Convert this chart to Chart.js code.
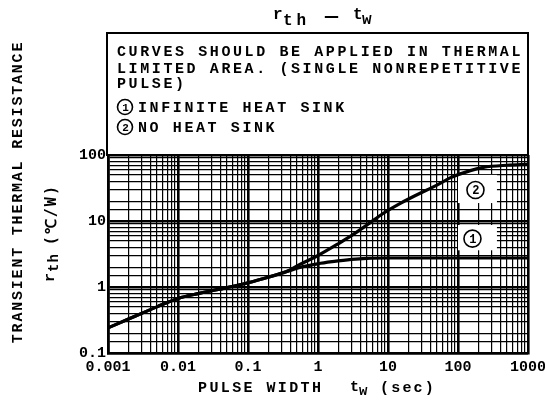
<!DOCTYPE html>
<html><head><meta charset="utf-8">
<script src="https://cdn.jsdelivr.net/npm/chart.js@4.4.0/dist/chart.umd.min.js"></script>
<style>html,body{margin:0;padding:0;background:#fff;}canvas{display:block;}</style>
</head><body>
<canvas id="c" width="545" height="403"></canvas>
<script>
// ---- data ----
const pulseWidthInfinite = [0.001, 0.002, 0.005, 0.01, 0.02, 0.05, 0.1, 0.2, 0.35, 0.55, 1, 1.6, 3, 5, 10, 30, 100, 300, 1000];
const rthInfinite        = [0.24, 0.33, 0.5, 0.67, 0.8, 0.98, 1.16, 1.42, 1.7, 1.98, 2.25, 2.42, 2.62, 2.72, 2.75, 2.75, 2.75, 2.75, 2.75];
const pulseWidthNoSink   = [0.001, 0.002, 0.005, 0.01, 0.02, 0.05, 0.1, 0.2, 0.35, 0.55, 1, 2, 3, 5, 8.5, 15, 26, 50, 77, 150, 230, 500, 1000];
const rthNoSink          = [0.24, 0.33, 0.5, 0.67, 0.8, 0.98, 1.16, 1.42, 1.7, 2.2, 3.0, 4.6, 6.0, 8.7, 13, 18.5, 25, 35, 45, 58, 65, 70, 72];
const xTickLabels = ['0.001', '0.01', '0.1', '1', '10', '100', '1000'];
const yTickLabels = ['0.1', '1', '10', '100'];
const xMinorSteps = [2, 3, 4, 5, 6, 7, 8, 9];
const yMinorSteps = [1.5, 2, 3, 4, 5, 6, 7, 8, 9];
const noteLines = ['CURVES SHOULD BE APPLIED IN THERMAL', 'LIMITED AREA. (SINGLE NONREPETITIVE', 'PULSE)'];
const legendItems = ['INFINITE HEAT SINK', 'NO HEAT SINK'];

const FAM = '"Liberation Mono", "DejaVu Sans Mono", monospace';
const xDecades = xTickLabels.map(Number);
const yDecades = yTickLabels.map(Number);

function buildTicks(decades, steps) {
  const out = [];
  decades.forEach((d, i) => {
    out.push(d);
    if (i < decades.length - 1) steps.forEach(s => out.push(d * s));
  });
  return out.map(v => ({ value: v }));
}
function labelFor(v, decades, labels) {
  const i = decades.findIndex(d => Math.abs(d - v) / d < 1e-6);
  return i >= 0 ? labels[i] : '';
}
function isDecade(v, decades) { return decades.some(d => Math.abs(d - v) / d < 1e-6); }

function txt(ctx, s, x, y, o = {}) {
  ctx.save();
  ctx.font = `${o.weight || 'bold'} ${o.size || 15}px ${o.family || FAM}`;
  ctx.letterSpacing = (o.ls || 0) + 'px';
  ctx.textAlign = o.align || 'left';
  ctx.textBaseline = o.baseline || 'alphabetic';
  ctx.fillStyle = '#000';
  ctx.fillText(s, x, y);
  const w = ctx.measureText(s).width;
  ctx.restore();
  return w;
}
function circled(ctx, n, cx, cy, r, size) {
  ctx.save();
  ctx.beginPath();
  ctx.arc(cx, cy, r, 0, Math.PI * 2);
  ctx.lineWidth = 1.6;
  ctx.strokeStyle = '#000';
  ctx.stroke();
  ctx.restore();
  txt(ctx, String(n), cx + 0.5, cy + 1, { size: size, align: 'center', baseline: 'middle' });
}

const annot = {
  id: 'annot',
  beforeDatasetsDraw(chart) {
    const { ctx, scales: { x, y } } = chart;
    const lx0 = x.getPixelForValue(100), lx1 = x.getPixelForValue(360);
    ctx.save();
    ctx.fillStyle = '#fff';
    let t = y.getPixelForValue(50), b = y.getPixelForValue(18.7);
    ctx.fillRect(lx0, t, lx1 - lx0, b - t);
    t = y.getPixelForValue(8.7); b = y.getPixelForValue(3.6);
    ctx.fillRect(lx0, t, lx1 - lx0, b - t);
    ctx.restore();
    const cx = (lx0 + lx1) / 2 - 2;
    circled(ctx, 2, cx, (y.getPixelForValue(50) + y.getPixelForValue(18.7)) / 2 + 1, 8.5, 12);
    circled(ctx, 1, cx - 3, (y.getPixelForValue(8.7) + y.getPixelForValue(3.6)) / 2 + 1, 8.5, 12);
  },
  afterDraw(chart) {
    const { ctx, chartArea: ca } = chart;
    ctx.save();
    ctx.fillStyle = '#fff';
    ctx.fillRect(107, 33, ca.right - 107, ca.top - 33);
    ctx.lineWidth = 2;
    ctx.strokeStyle = '#000';
    ctx.strokeRect(107, 33, ca.right - 107, ca.top - 33);
    ctx.restore();
    const noteY = [56, 73, 88];
    noteLines.forEach((s, i) => txt(ctx, s, 117, noteY[i], { size: 15, ls: 2.6 }));
    circled(ctx, 1, 125, 107, 7.5, 11);
    circled(ctx, 2, 125, 127, 7.5, 11);
    txt(ctx, legendItems[0], 138, 112, { size: 15, ls: 2.6 });
    txt(ctx, legendItems[1], 138, 132, { size: 15, ls: 2.6 });

    // chart title: r_th - t_w
    txt(ctx, 'r', 273, 19, { size: 16 });
    txt(ctx, 'th', 283, 25, { size: 16, ls: 4 });
    txt(ctx, '\u2014', 324, 21, { size: 15, family: '"DejaVu Sans"', weight: 'bold' });
    txt(ctx, 't', 353, 19, { size: 16 });
    txt(ctx, 'w', 362, 24, { size: 16 });

    // x axis title
    txt(ctx, 'PULSE WIDTH', 198, 392, { size: 15, ls: 2.4 });
    txt(ctx, 't', 350, 391, { size: 15 });
    txt(ctx, 'w', 359, 395, { size: 14 });
    txt(ctx, '(sec)', 380, 392, { size: 15, ls: 2.2 });

    // y axis titles (rotated)
    ctx.save();
    ctx.translate(22, 192);
    ctx.rotate(-Math.PI / 2);
    txt(ctx, 'TRANSIENT THERMAL RESISTANCE', 0, 0, { size: 15, ls: 1.8, align: 'center' });
    ctx.restore();
    ctx.save();
    ctx.translate(56, 230);
    ctx.rotate(-Math.PI / 2);
    let px = -52;
    px += txt(ctx, 'r', px, -2, { size: 15 });
    px += txt(ctx, 'th', px + 1, 2, { size: 14, ls: 1 }) + 9;
    txt(ctx, '(\u2103/W)', px, 0, { size: 15, ls: 2, family: '"DejaVu Sans Mono", monospace' });
    ctx.restore();
  }
};

const gridStyle = (decades) => ({
  color: '#000',
  lineWidth: c => (c.tick && isDecade(c.tick.value, decades)) ? 2.6 : 1.2,
  drawTicks: false
});

new Chart(document.getElementById('c'), {
  type: 'scatter',
  data: {
    datasets: [
      { label: legendItems[0], data: pulseWidthInfinite.map((t, i) => ({ x: t, y: rthInfinite[i] })),
        showLine: true, borderColor: '#000', borderWidth: 3.2, pointRadius: 0, cubicInterpolationMode: 'monotone' },
      { label: legendItems[1], data: pulseWidthNoSink.map((t, i) => ({ x: t, y: rthNoSink[i] })),
        showLine: true, borderColor: '#000', borderWidth: 3.2, pointRadius: 0, cubicInterpolationMode: 'monotone' }
    ]
  },
  options: {
    responsive: false,
    animation: false,
    layout: { padding: { left: 0, right: 17, top: 155, bottom: 0 } },
    plugins: { legend: { display: false }, tooltip: { enabled: false }, title: { display: false } },
    scales: {
      x: {
        type: 'logarithmic', min: 0.001, max: 1000,
        afterBuildTicks: s => { s.ticks = buildTicks(xDecades, xMinorSteps); },
        afterFit: s => { s.height = 50; s.paddingLeft = 0; s.paddingRight = 0; },
        grid: gridStyle(xDecades),
        border: { color: '#000', width: 2.6 },
        ticks: { autoSkip: false, maxRotation: 0, padding: 5, color: '#000',
          font: { family: FAM, size: 15, weight: 'bold' },
          callback: v => labelFor(v, xDecades, xTickLabels) }
      },
      y: {
        type: 'logarithmic', min: 0.1, max: 100,
        afterBuildTicks: s => { s.ticks = buildTicks(yDecades, yMinorSteps); },
        afterFit: s => { s.width = 108; s.paddingTop = 0; s.paddingBottom = 0; },
        grid: gridStyle(yDecades),
        border: { color: '#000', width: 2.6 },
        ticks: { autoSkip: false, padding: 2, color: '#000',
          font: { family: FAM, size: 15, weight: 'bold' },
          callback: v => labelFor(v, yDecades, yTickLabels) }
      }
    }
  },
  plugins: [annot]
});
</script>
</body></html>
